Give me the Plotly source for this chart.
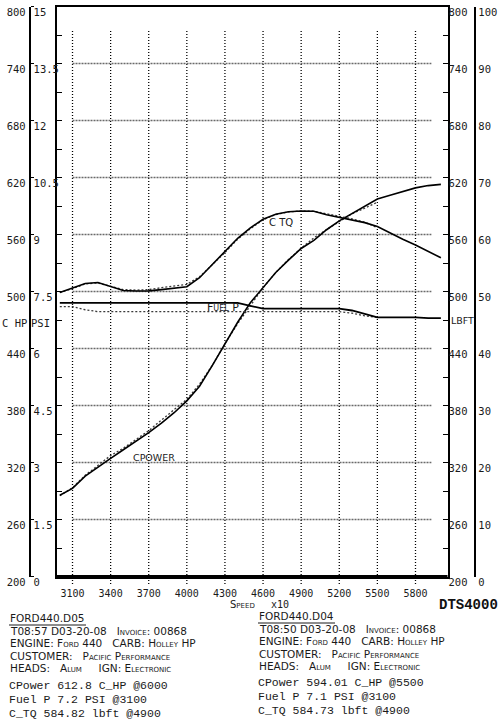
import plotly.graph_objects as go

# ---------------- data (read from the dyno sheet) ----------------
rpm_d05 = list(range(3000, 6001, 100))
rpm_d04 = list(range(3000, 5501, 100))

power_d05 = [285.5, 292.7, 305.6, 315.2, 324.3, 333.4, 342.2, 351.5, 361.4, 372.4,
             384.9, 400.3, 422.0, 445.2, 467.6, 488.2, 504.4, 520.0, 533.0, 545.3,
             553.8, 565.0, 574.4, 582.0, 590.0, 597.4, 601.3, 605.5, 609.1, 611.5, 612.8]
torque_d05 = [499.0, 503.5, 508.5, 509.5, 505.3, 501.0, 500.5, 500.7, 502.0, 503.5,
              505.0, 514.5, 528.0, 542.0, 556.0, 567.0, 576.0, 581.3, 584.0, 584.8,
              584.5, 580.7, 578.0, 575.0, 572.5, 568.5, 561.5, 555.0, 549.0, 542.0, 535.5]
fuel_d05 = [7.20, 7.20, 7.20, 7.20, 7.20, 7.20, 7.20, 7.20, 7.20, 7.20,
            7.20, 7.20, 7.20, 7.20, 7.20, 7.12, 7.05, 7.05, 7.05, 7.05,
            7.05, 7.05, 7.05, 7.00, 6.90, 6.82, 6.82, 6.82, 6.82, 6.80, 6.80]

power_d04 = [285.0, 293.5, 306.5, 317.0, 327.3, 335.0, 344.0, 353.5, 364.7, 375.4,
             386.5, 402.5, 422.2, 445.2, 466.1, 485.0, 504.0, 520.0, 533.6, 545.5,
             556.5, 565.2, 573.8, 581.8, 587.7, 594.0]
torque_d04 = [499.0, 503.0, 508.0, 509.0, 505.5, 502.0, 501.5, 502.0, 504.0, 505.5,
              507.5, 515.5, 528.0, 541.0, 555.0, 566.0, 575.5, 581.0, 583.8, 584.7,
              584.5, 582.0, 579.5, 576.5, 573.0, 567.2]
fuel_d04 = [7.10, 7.10, 7.02, 6.97, 6.97, 6.97, 6.97, 6.97, 6.97, 6.97,
            6.97, 6.97, 6.97, 6.97, 6.97, 6.97, 6.97, 6.97, 6.97, 6.97,
            6.97, 6.97, 6.97, 6.93, 6.86, 6.82]

speed_ticks = [3100, 3400, 3700, 4000, 4300, 4600, 4900, 5200, 5500, 5800]
hp_ticks = [200, 260, 320, 380, 440, 500, 560, 620, 680, 740, 800]
psi_ticks = [0, 1.5, 3, 4.5, 6, 7.5, 9, 10.5, 12, 13.5, 15]
psi_text = ["0", "1.5", "3", "4.5", "6", "7.5", "9", "10.5", "12", "13.5", "15"]
lbft_ticks = [200, 260, 320, 380, 440, 500, 560, 620, 680, 740, 800]
pct_ticks = [0, 10, 20, 30, 40, 50, 60, 70, 80, 90, 100]

left_header = ["FORD440.D05", "T08:57 D03-20-08\u00a0\u00a0 Invoice: 00868",
               "ENGINE: Ford 440\u00a0\u00a0 CARB: Holley HP",
               "CUSTOMER:\u00a0\u00a0 Pacific Performance",
               "HEADS:\u00a0\u00a0 Alum\u00a0\u00a0\u00a0\u00a0 IGN: Electronic"]
left_result = ["CPower 612.8 C_HP @6000", "Fuel P 7.2 PSI @3100", "C_TQ 584.82 lbft @4900"]
right_header = ["FORD440.D04", "T08:50 D03-20-08\u00a0\u00a0 Invoice: 00868",
                "ENGINE: Ford 440\u00a0\u00a0 CARB: Holley HP",
                "CUSTOMER:\u00a0\u00a0 Pacific Performance",
                "HEADS:\u00a0\u00a0 Alum\u00a0\u00a0\u00a0\u00a0 IGN: Electronic"]
right_result = ["CPower 594.01 C_HP @5500", "Fuel P 7.1 PSI @3100", "C_TQ 584.73 lbft @4900"]

# ---------------- layout geometry ----------------
W, H = 500, 720
XD = [56.5 / W, 447.5 / W]
YD = [(H - 576.5) / H, (H - 6.5) / H]
INK = "#1a1a1a"
TICKFONT = dict(family="DejaVu Sans Mono", size=10.5, color=INK)
SHIFT = 6

fig = go.Figure()

solid = dict(color="black", width=1.6)
dotted = dict(color="#3a3a3a", width=1.3, dash="2px,2px")

fig.add_trace(go.Scatter(x=rpm_d04, y=power_d04, mode="lines", line=dotted, yaxis="y"))
fig.add_trace(go.Scatter(x=rpm_d04, y=torque_d04, mode="lines", line=dotted, yaxis="y2"))
fig.add_trace(go.Scatter(x=rpm_d04, y=fuel_d04, mode="lines", line=dotted, yaxis="y4"))
fig.add_trace(go.Scatter(x=rpm_d05, y=power_d05, mode="lines", line=solid, yaxis="y"))
fig.add_trace(go.Scatter(x=rpm_d05, y=torque_d05, mode="lines", line=solid, yaxis="y2"))
fig.add_trace(go.Scatter(x=rpm_d05, y=fuel_d05, mode="lines", line=dict(color="black", width=1.8), yaxis="y4"))
# empty carriers so that the outer scale axes are drawn
fig.add_trace(go.Scatter(x=[rpm_d05[0]], y=[None], mode="lines", yaxis="y3", hoverinfo="skip"))
fig.add_trace(go.Scatter(x=[rpm_d05[0]], y=[None], mode="lines", yaxis="y5", hoverinfo="skip"))

common = dict(showgrid=False, zeroline=False, automargin=False)

fig.update_layout(
    width=W, height=H, margin=dict(l=0, r=0, t=0, b=0, autoexpand=False),
    paper_bgcolor="white", plot_bgcolor="white", showlegend=False,
    xaxis=dict(domain=XD, range=[2974, 6052], showline=True, mirror=True,
               linecolor="black", linewidth=2, tickvals=speed_ticks, ticks="",
               tickfont=dict(family="DejaVu Sans Mono", size=10, color=INK),
               ticklabelstandoff=6, **common),
    yaxis=dict(domain=YD, range=[200, 800], showline=True, mirror="ticks",
               linecolor="black", linewidth=2, ticks="inside", tick0=200, dtick=30,
               ticklen=5, tickwidth=1.3, tickcolor="black", showticklabels=False, **common),
    yaxis2=dict(overlaying="y", side="right", anchor="x", range=[200, 800],
                tickvals=lbft_ticks, ticks="", showline=False, tickfont=TICKFONT,
                ticklabelshift=SHIFT, ticklabelstandoff=0, **common),
    yaxis3=dict(overlaying="y", side="left", anchor="free", position=29.5 / W,
                range=[200, 800], tickvals=hp_ticks, ticks="", showline=True,
                linecolor="black", linewidth=1.5, tickfont=TICKFONT,
                ticklabelshift=SHIFT, ticklabelstandoff=1, **common),
    yaxis4=dict(overlaying="y", side="right", anchor="free", position=29.5 / W,
                range=[0, 15], tickvals=psi_ticks, ticktext=psi_text, ticks="outside",
                ticklen=3, tickcolor="black", showline=False, tickfont=TICKFONT,
                ticklabelshift=SHIFT, ticklabelstandoff=-2, **common),
    yaxis5=dict(overlaying="y", side="right", anchor="free", position=474.5 / W,
                range=[0, 100], tickvals=pct_ticks, ticks="", showline=True,
                linecolor="black", linewidth=1.5, tickfont=TICKFONT,
                ticklabelshift=SHIFT, ticklabelstandoff=1, **common),
)

shapes = []
for r in speed_ticks:
    shapes.append(dict(type="line", xref="x", yref="paper", x0=r, x1=r,
                       y0=(H - 584) / H, y1=(H - 29) / H, layer="below",
                       line=dict(color="black", width=1.3, dash="1px,2px")))
for v in hp_ticks[1:-1]:
    shapes.append(dict(type="line", xref="x", yref="y", x0=3100, x1=5925, y0=v, y1=v,
                       layer="below", line=dict(color="#6a6a6a", width=1.3, dash="2px,1px")))
shapes.append(dict(type="line", xref="paper", yref="paper", x0=XD[0], x1=XD[1],
                   y0=YD[0], y1=YD[0], line=dict(color="black", width=3)))
shapes.append(dict(type="line", xref="paper", yref="paper", x0=9 / W, x1=86 / W,
                   y0=(H - 625) / H, y1=(H - 625) / H, line=dict(color=INK, width=1)))
shapes.append(dict(type="line", xref="paper", yref="paper", x0=258 / W, x1=335 / W,
                   y0=(H - 623) / H, y1=(H - 623) / H, line=dict(color=INK, width=1)))
fig.update_layout(shapes=shapes)

ann = []


def txt(x, y, s, size=10, family="DejaVu Sans", anchor="left", variant="normal", color=INK):
    ann.append(dict(x=x / W, y=1 - y / H, xref="paper", yref="paper", text=s,
                    showarrow=False, xanchor=anchor, yanchor="middle", borderpad=0,
                    font=dict(family=family, size=size, color=color, variant=variant)))


txt(28, 323, "C HP", family="DejaVu Sans Mono", size=10.5, anchor="right")
txt(30, 323, "PSI", family="DejaVu Sans Mono", size=10.5)
txt(450, 320, "LBFT", family="DejaVu Sans", size=9.5)
txt(229, 604, "Speed", family="DejaVu Sans", size=10, variant="small-caps")
txt(270, 604, "x10", family="DejaVu Sans Mono", size=10)
txt(499, 605, "<b>DTS4000</b>", family="Liberation Mono", size=14, anchor="right", color="#111")
txt(268, 222, "C TQ", family="DejaVu Sans", size=10)
txt(206, 307, "Fuel P", family="DejaVu Sans", size=11, variant="small-caps")
txt(132, 457, "CPOWER", family="DejaVu Sans", size=9.5)

for i, (yl, yr) in enumerate(zip([618, 630.5, 643, 655.5, 668], [616, 628.5, 641, 653.5, 666])):
    txt(9, yl, left_header[i], size=10.5, family="DejaVu Sans", variant="small-caps")
    txt(258, yr, right_header[i], size=10.5, family="DejaVu Sans", variant="small-caps")
for i, (yl, yr) in enumerate(zip([685, 699, 713], [682, 696, 710])):
    txt(8, yl, left_result[i], size=11.5, family="Liberation Mono")
    txt(257, yr, right_result[i], size=11.5, family="Liberation Mono")

fig.update_layout(annotations=ann)
fig.write_html("out.html")
